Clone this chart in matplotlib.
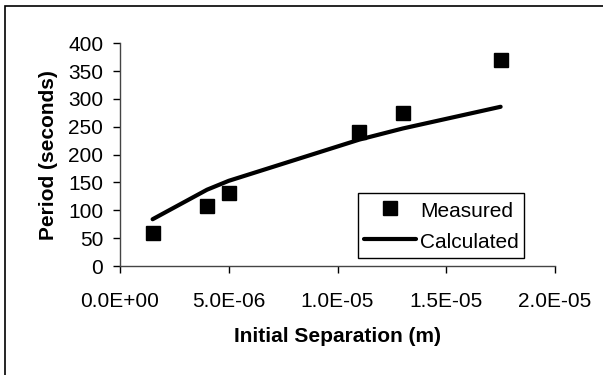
import matplotlib
matplotlib.use("Agg")
import matplotlib.pyplot as plt
from matplotlib.patches import Rectangle
from matplotlib.ticker import FuncFormatter, MultipleLocator

plt.rcParams["font.family"] = ["Liberation Sans", "DejaVu Sans"]

# datos
separation = [1.5e-6, 4.0e-6, 5.0e-6, 1.1e-5, 1.3e-5, 1.75e-5]
measured = [60, 108, 131, 240, 274, 370]
calculated = [84, 137, 153, 227, 247, 286]

W, H = 603, 375
fig = plt.figure(figsize=(W / 100, H / 100), dpi=100)

# marco exterior del grafico (solo se ven borde izquierdo y superior)
fig.patches.append(Rectangle((5 / W, -0.1), 1.2, 1.1 - 6 / H, transform=fig.transFigure,
                             fill=False, edgecolor="black", linewidth=1.2))

ax = fig.add_axes([120 / W, 109 / H, 435 / W, 222.7 / H])
ax.plot(separation, measured, linestyle="none", marker="s", markersize=10.5,
        color="black", label="Measured", clip_on=False)
ax.plot(separation, calculated, color="black", linewidth=3, label="Calculated",
        solid_capstyle="round")

ax.set_xlim(0, 2.0e-5)
ax.set_ylim(0, 400)
ax.xaxis.set_major_locator(MultipleLocator(5e-6))
ax.yaxis.set_major_locator(MultipleLocator(50))
ax.xaxis.set_major_formatter(FuncFormatter(lambda v, p: f"{v:.1E}"))

for s in ["top", "right"]:
    ax.spines[s].set_visible(False)
for s in ["left", "bottom"]:
    ax.spines[s].set_color("#444444")
    ax.spines[s].set_linewidth(1)

ax.tick_params(axis="both", direction="out", length=5, width=1, colors="black",
               labelsize=15)
ax.tick_params(axis="x", pad=14)
ax.tick_params(axis="y", pad=7)

ax.set_xlabel("Initial Separation (m)", fontsize=15, fontweight="bold", labelpad=11)
ax.set_ylabel("Period (seconds)", fontsize=15, fontweight="bold", labelpad=7)

leg = ax.legend(loc="upper left", bbox_to_anchor=(357.7 / W, 1 - 193.3 / H),
                bbox_transform=fig.transFigure, borderaxespad=0, fontsize=15,
                frameon=True, fancybox=False, framealpha=1, edgecolor="black",
                handlelength=2.5, handleheight=1.21, handletextpad=0.2,
                borderpad=0.28, labelspacing=0.45)
leg.get_frame().set_linewidth(1)

fig.savefig("out.png", dpi=100)
